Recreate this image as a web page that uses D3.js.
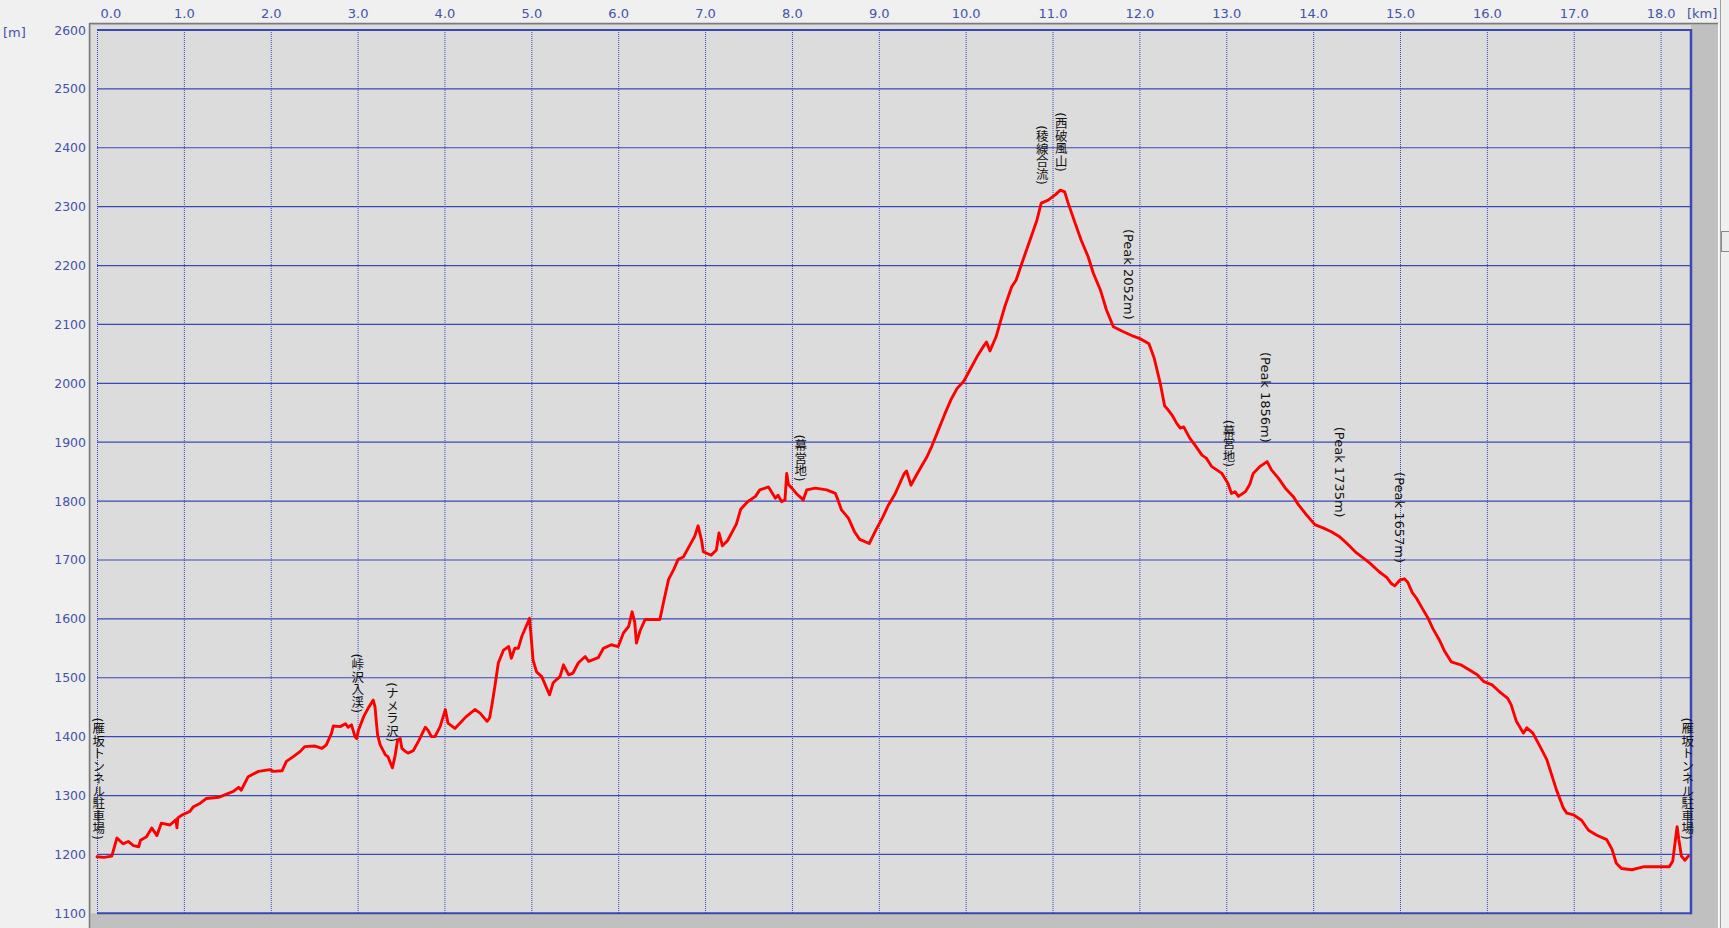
<!DOCTYPE html>
<html><head><meta charset="utf-8">
<script src="https://cdn.jsdelivr.net/npm/d3@7"></script>
<style>
body{margin:0;background:#f0f0f0;overflow:hidden}
svg{display:block}
.ax text{font-family:"DejaVu Sans",Verdana,sans-serif;fill:#4452a8}
.ann{font-family:"DejaVu Sans","Noto Sans CJK JP",sans-serif;fill:#111;writing-mode:vertical-rl;text-orientation:mixed}
</style></head><body><svg id="c" width="1729" height="928"></svg>
<script>
const distKm = [0.00,0.08,0.17,0.23,0.30,0.36,0.42,0.48,0.50,0.57,0.63,0.69,0.74,0.84,0.91,0.92,0.93,0.98,1.07,1.11,1.19,1.26,1.40,1.57,1.63,1.66,1.74,1.86,1.99,2.03,2.13,2.18,2.26,2.34,2.39,2.51,2.59,2.64,2.70,2.72,2.80,2.86,2.89,2.93,2.97,2.99,3.01,3.07,3.12,3.18,3.20,3.23,3.26,3.32,3.35,3.40,3.43,3.46,3.49,3.51,3.55,3.58,3.64,3.70,3.78,3.81,3.85,3.89,3.95,4.01,4.04,4.12,4.18,4.25,4.35,4.41,4.49,4.52,4.55,4.58,4.62,4.68,4.74,4.77,4.81,4.85,4.89,4.98,5.02,5.06,5.12,5.16,5.21,5.25,5.29,5.33,5.37,5.43,5.48,5.54,5.62,5.66,5.77,5.83,5.92,6.00,6.06,6.12,6.16,6.19,6.21,6.25,6.31,6.39,6.48,6.52,6.58,6.64,6.69,6.75,6.82,6.88,6.92,6.96,6.98,7.07,7.13,7.16,7.20,7.26,7.36,7.41,7.49,7.58,7.63,7.73,7.81,7.84,7.88,7.92,7.94,7.96,8.00,8.05,8.13,8.17,8.27,8.40,8.50,8.53,8.57,8.65,8.72,8.78,8.89,8.97,9.04,9.11,9.19,9.29,9.32,9.37,9.44,9.55,9.61,9.67,9.76,9.83,9.90,9.98,10.05,10.13,10.21,10.24,10.28,10.35,10.41,10.45,10.53,10.58,10.64,10.74,10.82,10.87,10.95,11.03,11.09,11.14,11.18,11.26,11.33,11.41,11.47,11.55,11.62,11.70,11.81,11.93,12.02,12.11,12.17,12.24,12.29,12.33,12.38,12.43,12.47,12.51,12.58,12.64,12.72,12.77,12.83,12.95,13.02,13.06,13.10,13.14,13.22,13.27,13.31,13.39,13.47,13.52,13.60,13.68,13.77,13.83,13.91,14.02,14.12,14.21,14.30,14.39,14.50,14.65,14.76,14.85,14.90,14.94,15.00,15.05,15.09,15.14,15.19,15.26,15.32,15.38,15.45,15.51,15.59,15.70,15.89,15.96,16.06,16.14,16.24,16.28,16.34,16.42,16.46,16.53,16.61,16.69,16.74,16.80,16.88,16.92,17.00,17.09,17.17,17.26,17.38,17.44,17.49,17.55,17.67,17.80,17.95,18.10,18.14,18.19,18.21,18.24,18.28,18.32];
const elevM = [1196,1195,1197,1228,1218,1222,1215,1213,1224,1230,1245,1232,1253,1250,1259,1245,1262,1267,1273,1281,1287,1295,1297,1307,1314,1309,1332,1341,1344,1341,1342,1358,1366,1375,1383,1384,1380,1386,1406,1418,1417,1422,1416,1420,1400,1397,1411,1434,1448,1462,1451,1403,1386,1369,1366,1347,1366,1394,1397,1380,1375,1372,1376,1392,1416,1411,1400,1400,1417,1446,1423,1414,1423,1434,1446,1440,1426,1432,1457,1485,1525,1547,1553,1533,1550,1550,1570,1601,1530,1510,1502,1488,1471,1491,1497,1502,1522,1505,1508,1525,1536,1528,1534,1550,1556,1553,1576,1587,1612,1595,1559,1579,1599,1599,1599,1627,1667,1684,1701,1705,1724,1740,1758,1733,1714,1708,1717,1746,1724,1733,1761,1786,1799,1808,1819,1824,1805,1810,1799,1802,1847,1828,1822,1813,1802,1819,1822,1819,1813,1802,1785,1771,1748,1735,1728,1752,1771,1793,1813,1846,1851,1827,1846,1874,1893,1915,1948,1972,1991,2004,2023,2045,2064,2070,2055,2079,2110,2130,2164,2175,2201,2243,2277,2306,2311,2320,2328,2325,2306,2272,2243,2215,2187,2159,2125,2096,2088,2080,2075,2067,2043,2000,1962,1955,1945,1932,1924,1926,1907,1895,1878,1873,1859,1847,1830,1813,1816,1808,1816,1828,1847,1859,1867,1853,1839,1822,1808,1794,1779,1760,1754,1748,1740,1728,1712,1695,1680,1670,1660,1656,1666,1668,1662,1645,1635,1617,1602,1583,1565,1546,1527,1522,1505,1494,1488,1477,1465,1454,1426,1406,1415,1406,1384,1361,1338,1310,1279,1270,1267,1258,1241,1233,1225,1209,1185,1176,1174,1179,1179,1179,1189,1247,1225,1197,1190,1197];
const xTicks = [0,1,2,3,4,5,6,7,8,9,10,11,12,13,14,15,16,17,18];
const yTicks = [1100,1200,1300,1400,1500,1600,1700,1800,1900,2000,2100,2200,2300,2400,2500,2600];
const labelText = ["(雁坂トンネル駐車場)","(峠沢入渓)","(ナメラ沢)","(幕営地)","(稜線合流)","(西破風山)","(Peak 2052m)","(幕営地)","(Peak 1856m)","(Peak 1735m)","(Peak 1657m)","(雁坂トンネル駐車場)"];
const labelKm = [0.01,2.99,3.39,8.09,10.87,11.09,11.87,13.02,13.45,14.30,15.00,18.30];
const labelElev = [1196,1411,1362,1804,2308,2330,2079,1829,1870,1743,1666,1196];
const kmMax = 18.35;

const svg = d3.select("#c");
const x = d3.scaleLinear().domain([0, kmMax]).range([97, 1691]);
const y = d3.scaleLinear().domain([1100, 2600]).range([913.3, 30]);
const blue = "#3a48b4";

// panel
svg.append("rect").attr("x",89).attr("y",23).attr("width",1630).attr("height",905).attr("fill","#c0c0c0");
svg.append("rect").attr("x",91).attr("y",25).attr("width",x(kmMax)-91).attr("height",y(1100)-25).attr("fill","#dcdcdc");
svg.append("line").attr("x1",89).attr("x2",1719).attr("y1",23.5).attr("y2",23.5).attr("stroke","#7a7a7a").attr("stroke-width",1.5);
svg.append("line").attr("x1",89.5).attr("x2",89.5).attr("y1",23).attr("y2",928).attr("stroke","#7a7a7a").attr("stroke-width",1.5);
svg.append("line").attr("x1",1718.5).attr("x2",1718.5).attr("y1",23).attr("y2",928).attr("stroke","#ffffff").attr("stroke-width",1);
svg.append("line").attr("x1",1720.5).attr("x2",1720.5).attr("y1",0).attr("y2",928).attr("stroke","#a0a0a0").attr("stroke-width",1);
svg.append("rect").attr("x",1721.5).attr("y",231.5).attr("width",8).attr("height",20).attr("fill","#ececec").attr("stroke","#8a8a8a");

// grid
const g = svg.append("g");
g.selectAll(".hg").data(yTicks).enter().append("line")
  .attr("x1",x(0)).attr("x2",x(kmMax)).attr("y1",d=>y(d)).attr("y2",d=>y(d))
  .attr("stroke",blue).attr("stroke-width",d=>(d===1100||d===2600)?2:1.2);
g.selectAll(".vg").data(xTicks).enter().append("line")
  .attr("x1",d=>x(d)+0.5).attr("x2",d=>x(d)+0.5).attr("y1",y(2600)).attr("y2",y(1100))
  .attr("stroke",blue).attr("stroke-width",1).attr("stroke-dasharray","1,1");
g.append("line").attr("x1",x(kmMax)).attr("x2",x(kmMax)).attr("y1",y(2600)-1).attr("y2",y(1100)+1)
  .attr("stroke",blue).attr("stroke-width",2.5);

// axes
const xa = svg.append("g").attr("class","ax").attr("transform","translate(0,17.5)")
  .call(d3.axisTop(x).tickValues(xTicks).tickFormat(d3.format(".1f")).tickSize(0).tickPadding(0));
xa.select(".domain").remove();
xa.selectAll("text").attr("font-size",13).attr("fill","#4452a8")
  .filter(d=>d===0).attr("text-anchor","start").attr("x",3);
const ya = svg.append("g").attr("class","ax").attr("transform","translate(86,0)")
  .call(d3.axisLeft(y).tickValues(yTicks).tickFormat(d3.format("d")).tickSize(0).tickPadding(0));
ya.select(".domain").remove();
ya.selectAll("text").attr("font-size",12.5).attr("fill","#4452a8");
svg.append("text").attr("class","ax").attr("x",3).attr("y",37).text("[m]")
  .style("font-family","DejaVu Sans").style("font-size","13px").attr("fill","#4452a8");
svg.append("text").attr("x",1687).attr("y",17.5).text("[km]")
  .style("font-family","DejaVu Sans").style("font-size","13px").attr("fill","#4452a8");

// profile
const pts = distKm.map((d,i)=>[d, elevM[i]]);
svg.append("path").datum(pts)
  .attr("d", d3.line().x(d=>x(d[0])).y(d=>y(d[1])))
  .attr("fill","none").attr("stroke","#ff0000").attr("stroke-width",2.9)
  .attr("stroke-linejoin","round").attr("stroke-linecap","round");

// annotations
svg.selectAll(".ann").data(labelText).enter().append("text")
  .attr("class","ann")
  .attr("x",(d,i)=>x(labelKm[i]))
  .attr("y",(d,i)=>y(labelElev[i])-17)
  .attr("text-anchor","end")
  .style("font-size",d=>/Peak/.test(d)?"13px":"12.5px")
  .text(d=>d);
</script></body></html>
